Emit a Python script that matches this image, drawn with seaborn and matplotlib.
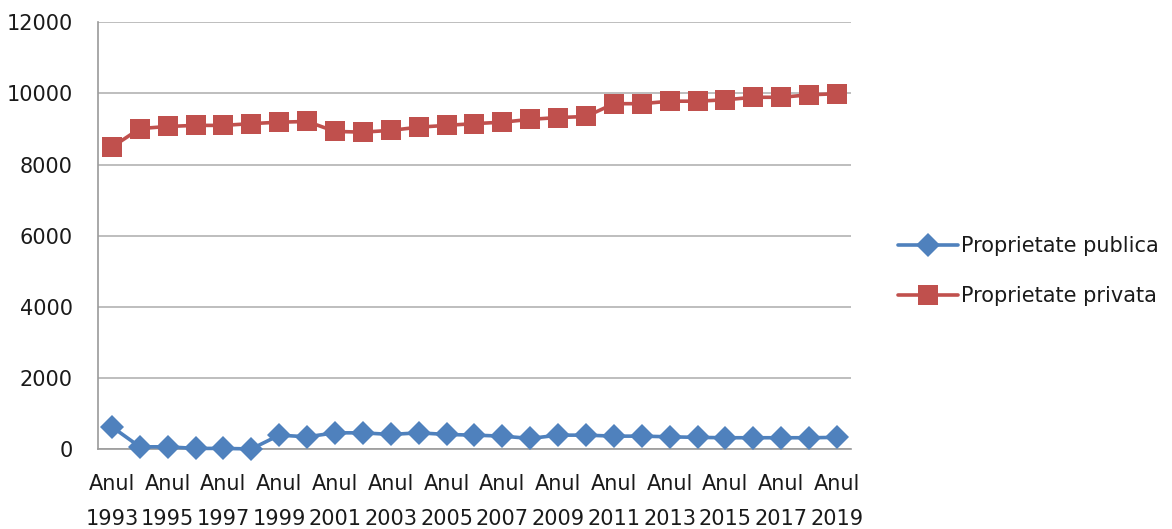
import pandas as pd
import matplotlib
import matplotlib.pyplot as plt
import seaborn as sns

matplotlib.use("Agg")

years = list(range(1993, 2020))
publica = [626, 65, 65, 20, 20, 5, 393, 346, 458, 458, 412, 458, 412, 393,
           365, 300, 393, 393, 365, 365, 346, 330, 320, 320, 320, 320, 330]
privata = [8490, 9010, 9070, 9100, 9100, 9150, 9190, 9210, 8930, 8910, 8960,
           9050, 9100, 9150, 9190, 9270, 9320, 9350, 9710, 9710, 9780, 9780,
           9820, 9890, 9890, 9960, 9990]
series_names = ["Proprietate publica", "Proprietate privata"]
colors = {"Proprietate publica": "#4f81bd", "Proprietate privata": "#c0504d"}
markers = {"Proprietate publica": "D", "Proprietate privata": "s"}
y_ticks = [0, 2000, 4000, 6000, 8000, 10000, 12000]


def build_frame():
    data = {"idx": [], "value": [], "series": []}
    for name, vals in zip(series_names, [publica, privata]):
        for i, v in enumerate(vals):
            data["idx"].append(i)
            data["value"].append(v)
            data["series"].append(name)
    return pd.DataFrame(data)


df = build_frame()

sns.set_style("white")
plt.rcParams["font.family"] = ["DejaVu Sans"]
text_color = "#1a1a1a"

fig = plt.figure(figsize=(11.72, 5.29), dpi=100)
ax = fig.add_axes([0.0836, 0.151, 0.6425, 0.807])

sns.lineplot(
    data=df,
    x="idx",
    y="value",
    hue="series",
    style="series",
    hue_order=series_names,
    style_order=series_names,
    palette=colors,
    markers=markers,
    dashes=False,
    linewidth=2.6,
    markersize=12,
    markeredgewidth=0,
    clip_on=False,
    zorder=3,
    ax=ax,
)

# squares a bit larger than diamonds, as in the original
for line in ax.lines:
    if line.get_marker() == "s":
        line.set_markersize(15)

ax.set_xlim(-0.5, len(years) - 0.5)
ax.set_ylim(0, 12000)
ax.set_yticks(y_ticks)
ax.set_yticklabels([str(t) for t in y_ticks], fontsize=15)
ax.set_xticks(list(range(0, len(years), 2)))
ax.set_xticklabels([f"Anul\n{y}" for y in years[::2]], fontsize=15,
                   linespacing=1.9)
ax.tick_params(axis="both", length=0, colors=text_color)
ax.tick_params(axis="y", pad=18)
ax.tick_params(axis="x", pad=18)
ax.set_xlabel("")
ax.set_ylabel("")
ax.yaxis.grid(True, color="#b3b3b3", linewidth=1.2)
ax.xaxis.grid(False)
for pos in ["top", "right"]:
    ax.spines[pos].set_visible(False)
for pos in ["left", "bottom"]:
    ax.spines[pos].set_edgecolor("#9a9a9a")
    ax.spines[pos].set_linewidth(1.2)

handles, labels = ax.get_legend_handles_labels()
for h in handles:
    if h.get_marker() == "s":
        h.set_markersize(15)
leg = ax.legend(
    handles,
    labels,
    loc="center left",
    bbox_to_anchor=(0.75, 0.487),
    bbox_transform=fig.transFigure,
    frameon=False,
    fontsize=15,
    handlelength=2.9,
    handletextpad=0.15,
    labelspacing=1.45,
)
for t in leg.get_texts():
    t.set_color(text_color)

fig.savefig("out.png", dpi=100)
plt.close(fig)
